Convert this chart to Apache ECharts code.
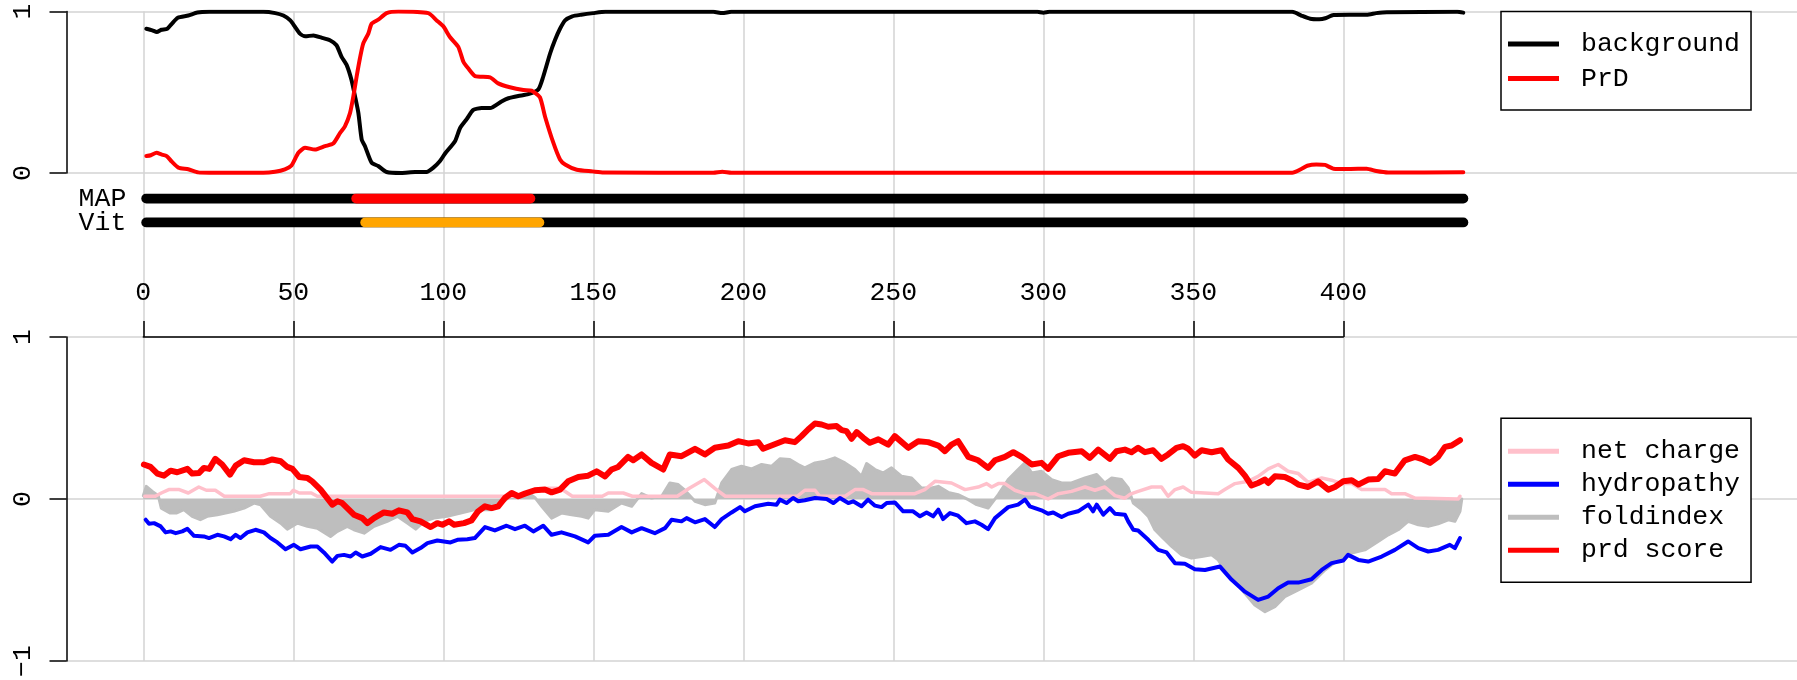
<!DOCTYPE html>
<html>
<head>
<meta charset="utf-8">
<title>PLAAC profile</title>
<script src="https://cdn.jsdelivr.net/npm/echarts@6.0.0/dist/echarts.min.js"></script>
<style>
  html, body { margin: 0; padding: 0; background: #ffffff; }
  #chart { width: 1797px; height: 680px; }
</style>
</head>
<body>
<div id="chart"></div>
<script>
// ---- data (residue, value) ----
const proteinLength = 440;
const xTicks = [0, 50, 100, 150, 200, 250, 300, 350, 400];
const trackNames = ["Vit", "MAP"];
const mapRegion = [71, 129];
const vitRegion = [74, 132];

const background = [[1,0.893],[3,0.883],[4.5,0.873],[6,0.887],[8,0.893],[9.5,0.924],[11.5,0.961],[15,0.975],[18,0.994],[22,0.998],[40,0.998],[44,0.99],[46.7,0.975],[49,0.945],[50.6,0.904],[52.2,0.863],[54,0.846],[56.7,0.852],[59.4,0.838],[62.2,0.822],[64.4,0.791],[66.1,0.719],[67.8,0.668],[69.4,0.576],[70.6,0.473],[71.7,0.371],[72.8,0.207],[73.9,0.166],[76.1,0.064],[78.3,0.043],[81.1,0.006],[86,0],[90.6,0.006],[94.4,0.006],[96.7,0.033],[98.9,0.074],[100.6,0.121],[103.9,0.197],[105.6,0.279],[107.8,0.334],[110,0.391],[112.8,0.402],[115.6,0.402],[119.4,0.443],[121.7,0.463],[125,0.477],[128.3,0.488],[131.7,0.518],[133.3,0.596],[135.6,0.74],[137.2,0.822],[138.9,0.893],[140.6,0.945],[143,0.97],[146,0.98],[150,0.99],[154,0.998],[190,0.998],[193,0.99],[196,0.998],[298,0.998],[300,0.993],[302,0.998],[383,0.998],[386,0.975],[389,0.955],[392,0.952],[394,0.958],[396.7,0.978],[402,0.98],[407.8,0.98],[411,0.99],[414.5,0.996],[438,0.998],[440,0.993]];

const prd = [[1,0.105],[2.5,0.11],[4.4,0.125],[6,0.115],[7.8,0.105],[9.5,0.07],[11.7,0.033],[15,0.023],[18.3,0.004],[22,0.002],[40,0.002],[43.9,0.008],[47.2,0.023],[49.4,0.047],[51.7,0.125],[53.9,0.156],[57.2,0.145],[60.6,0.166],[63.3,0.182],[65.6,0.248],[67.2,0.289],[68.9,0.371],[70,0.473],[71.1,0.596],[72.2,0.709],[73.3,0.801],[75,0.863],[76.1,0.924],[78.3,0.949],[81.1,0.99],[85,1.0],[95,0.99],[97.8,0.945],[100,0.908],[102.2,0.842],[105,0.781],[106.7,0.689],[108.3,0.648],[110.6,0.6],[115.6,0.592],[118.3,0.555],[122.2,0.531],[126.7,0.514],[129.4,0.51],[132.2,0.469],[133.9,0.35],[136.7,0.186],[138.9,0.084],[140.6,0.053],[144.5,0.02],[149.7,0.01],[153.4,0.003],[190,0.002],[193,0.008],[196,0.002],[383,0.002],[386,0.025],[388,0.045],[391,0.053],[393.9,0.05],[396.7,0.027],[402,0.025],[407.8,0.027],[411,0.012],[415,0.003],[440,0.004]];

const prdScore = [[0.2,0.213],[2.4,0.198],[4.7,0.157],[6.9,0.144],[9.1,0.175],[11.3,0.165],[14.7,0.186],[16.3,0.157],[18.6,0.161],[20.2,0.192],[22,0.186],[24,0.248],[26.3,0.213],[28.9,0.151],[30.8,0.206],[33.6,0.239],[36.9,0.227],[40.2,0.227],[43,0.244],[45.8,0.233],[48,0.198],[49.7,0.186],[52,0.136],[54.7,0.13],[56.3,0.109],[59.1,0.058],[61.3,0.006],[63,-0.035],[64.7,-0.014],[66.3,-0.025],[68,-0.056],[70.2,-0.097],[73,-0.118],[74.7,-0.149],[76.9,-0.118],[80.2,-0.083],[83,-0.091],[85.2,-0.07],[88,-0.083],[89.7,-0.124],[92.4,-0.138],[95.8,-0.173],[98,-0.149],[99.7,-0.159],[101.9,-0.138],[103.6,-0.159],[106.9,-0.149],[109.4,-0.132],[111.6,-0.076],[113.9,-0.045],[116.1,-0.056],[118.3,-0.045],[120.5,0.006],[122.8,0.037],[125,0.017],[127.2,0.033],[130.5,0.054],[133.9,0.058],[136.1,0.041],[138.9,0.058],[141.6,0.109],[145,0.136],[148.3,0.144],[151.1,0.171],[153.9,0.14],[156.1,0.182],[158.3,0.198],[161.6,0.26],[163.3,0.239],[166.1,0.275],[169.4,0.223],[173.3,0.182],[175.5,0.275],[179.4,0.264],[183.9,0.31],[187.2,0.275],[190.5,0.316],[195,0.33],[198.3,0.357],[201.6,0.343],[205,0.351],[206.6,0.31],[209.4,0.33],[213.9,0.363],[217.2,0.351],[219.4,0.388],[221.6,0.429],[223.9,0.466],[226.1,0.46],[228.3,0.446],[231.1,0.45],[232.8,0.425],[234.4,0.419],[236.1,0.372],[237.8,0.413],[240,0.378],[242.2,0.347],[245,0.368],[248.3,0.336],[250.5,0.388],[255,0.316],[258.3,0.357],[261.6,0.351],[265,0.33],[267.2,0.295],[269.4,0.336],[271.6,0.357],[275,0.26],[278.3,0.239],[281.6,0.192],[283.9,0.239],[287.2,0.26],[290,0.289],[292.8,0.26],[296.1,0.213],[299.4,0.223],[301.6,0.186],[305,0.264],[308.3,0.285],[312.8,0.295],[315.5,0.254],[318.3,0.305],[322.2,0.248],[324.4,0.295],[327.2,0.305],[329.4,0.289],[331.6,0.316],[333.9,0.289],[336.6,0.301],[339.4,0.248],[341.6,0.275],[344.4,0.316],[346.6,0.326],[348.3,0.31],[350.5,0.268],[352.8,0.301],[356.1,0.289],[359.4,0.301],[361.6,0.244],[365,0.192],[367.2,0.144],[369.4,0.083],[371.6,0.099],[373.9,0.12],[375,0.099],[377.2,0.14],[380.5,0.136],[382.8,0.116],[385,0.089],[388.3,0.074],[391.6,0.109],[395,0.058],[397.2,0.074],[400,0.109],[402.8,0.116],[405,0.089],[408.3,0.12],[411.6,0.124],[413.9,0.171],[417.2,0.157],[420.5,0.239],[423.9,0.26],[426.6,0.244],[428.9,0.223],[431.6,0.26],[433.9,0.322],[436.1,0.33],[438.9,0.363]];

const hydropathy = [[0.8,-0.128],[1.9,-0.153],[3.6,-0.149],[5.8,-0.169],[7.4,-0.206],[9.1,-0.2],[10.8,-0.211],[13,-0.2],[14.7,-0.184],[16.9,-0.227],[20.2,-0.231],[21.9,-0.241],[24.7,-0.221],[26.9,-0.231],[29.1,-0.248],[30.8,-0.221],[32.4,-0.241],[34.7,-0.206],[37.4,-0.19],[40.2,-0.206],[42.4,-0.241],[44.7,-0.268],[47.4,-0.31],[50.2,-0.283],[52.4,-0.31],[55.8,-0.293],[58,-0.293],[60.2,-0.33],[63,-0.386],[64.7,-0.351],[66.9,-0.345],[69.1,-0.355],[70.8,-0.33],[73,-0.355],[75.8,-0.338],[79.1,-0.297],[82.4,-0.314],[85.2,-0.283],[87.4,-0.289],[89.7,-0.33],[92.4,-0.303],[94.7,-0.272],[98,-0.256],[100.2,-0.262],[102.4,-0.268],[104.7,-0.252],[108,-0.248],[110.5,-0.241],[113.9,-0.173],[117.2,-0.194],[121.1,-0.165],[123.9,-0.186],[127.2,-0.165],[130,-0.2],[133.3,-0.165],[136.1,-0.221],[139.4,-0.206],[143.9,-0.231],[148.3,-0.268],[150.5,-0.227],[155,-0.221],[159.4,-0.173],[162.8,-0.206],[166.1,-0.18],[170.5,-0.211],[173.9,-0.18],[176.1,-0.128],[179.4,-0.138],[181.1,-0.118],[183.9,-0.144],[187.2,-0.124],[190.5,-0.173],[192.8,-0.124],[196.1,-0.083],[198.9,-0.05],[200.5,-0.076],[203.9,-0.045],[208.3,-0.029],[211.1,-0.035],[212.2,-0.004],[214.4,-0.025],[216.6,0.006],[218.3,-0.014],[220.5,-0.008],[223.9,0.006],[227.8,0],[230,-0.025],[232.2,0.006],[235,-0.025],[236.6,-0.014],[239.4,-0.045],[241.6,-0.004],[243.9,-0.041],[246.1,-0.05],[247.8,-0.025],[250.5,-0.021],[253.3,-0.076],[256.6,-0.076],[258.9,-0.107],[261.1,-0.083],[263.3,-0.107],[265,-0.066],[266.6,-0.124],[268.9,-0.087],[271.6,-0.103],[274.4,-0.149],[277.2,-0.138],[279.4,-0.159],[281.6,-0.186],[283.9,-0.118],[288.3,-0.05],[291.6,-0.035],[293.9,-0.004],[295.5,-0.045],[299.4,-0.07],[301.6,-0.091],[303.3,-0.083],[306.1,-0.111],[308.3,-0.091],[311.6,-0.076],[315,-0.035],[316.6,-0.076],[317.8,-0.035],[320,-0.097],[322.2,-0.056],[323.9,-0.091],[327.2,-0.097],[328.3,-0.138],[330,-0.19],[331.6,-0.194],[335,-0.252],[338.3,-0.314],[341.1,-0.33],[343.9,-0.396],[347.2,-0.4],[350.5,-0.433],[353.9,-0.438],[358.9,-0.417],[362.8,-0.499],[367.2,-0.572],[371.6,-0.623],[375,-0.602],[378.3,-0.551],[381.6,-0.516],[385,-0.516],[389.4,-0.495],[392.8,-0.438],[396.1,-0.396],[400,-0.38],[401.6,-0.345],[405,-0.376],[408.3,-0.386],[412.8,-0.355],[417.2,-0.314],[421.6,-0.262],[425,-0.303],[428.3,-0.324],[431.6,-0.314],[435.5,-0.283],[437.2,-0.303],[438.9,-0.241]];

const netCharge = [[0.5,0.017],[4,0.017],[6,0.037],[8.5,0.058],[12,0.058],[15,0.037],[18.5,0.074],[21,0.054],[24,0.054],[27,0.017],[39,0.017],[42,0.033],[49,0.033],[50,0.054],[52,0.037],[56,0.037],[58,0.017],[125,0.017],[128,0.033],[135,0.066],[139,0.066],[143,0.017],[153,0.017],[155,0.037],[160,0.037],[163,0.017],[178,0.017],[182,0.066],[187,0.12],[190.5,0.066],[194,0.017],[218,0.017],[220.5,0.054],[223.9,0.054],[225.5,0.017],[233.9,0.017],[237.2,0.058],[240,0.058],[242.8,0.033],[257.2,0.033],[260.5,0.058],[263.9,0.109],[269.4,0.099],[273.9,0.058],[278.3,0.074],[281.1,0.095],[282.8,0.074],[285,0.095],[287.2,0.095],[290.5,0.054],[293.9,0.033],[297.2,0.033],[301.6,0.0],[305,0.033],[309.4,0.047],[313.9,0.074],[317.2,0.054],[320.5,0.074],[323.9,0.021],[327.2,0.005],[329,0.03],[331.6,0.047],[336.1,0.074],[339.4,0.074],[341.6,0.017],[343.9,0.058],[346.6,0.074],[349.4,0.041],[358.3,0.033],[360.5,0.058],[363.9,0.095],[368.3,0.109],[371.6,0.14],[375,0.186],[378.3,0.213],[381.6,0.171],[385,0.157],[388.3,0.103],[392.8,0.13],[396.1,0.116],[399.4,0.095],[402.8,0.095],[406.1,0.058],[413.9,0.058],[416.1,0.033],[420.5,0.033],[423.9,0.006],[438.3,0.0],[438.9,0.017]];

const foldIndex = [[0,0.02],[1,0.078],[3,0.047],[5,0.02],[6,-0.056],[9,-0.087],[11,-0.087],[13.5,-0.066],[16.3,-0.107],[19,-0.128],[21.3,-0.107],[24.7,-0.097],[27.4,-0.087],[30.1,-0.076],[33.6,-0.056],[36.9,-0.025],[39.1,-0.035],[42.4,-0.107],[45.8,-0.149],[48,-0.186],[51.3,-0.149],[54.7,-0.169],[58,-0.18],[62.4,-0.231],[64.7,-0.2],[68,-0.169],[70.2,-0.19],[73.6,-0.211],[76.9,-0.169],[81.3,-0.138],[84.7,-0.107],[88,-0.149],[90.8,-0.186],[93.6,-0.138],[96.9,-0.118],[101.3,-0.107],[105.8,-0.087],[110.2,-0.066],[114,-0.066],[116.1,-0.066],[119.4,-0.025],[122,0.01],[128.3,0.037],[130.5,0.01],[133,-0.05],[136.1,-0.118],[139.4,-0.087],[142.8,-0.097],[146.1,-0.107],[148.3,-0.118],[150.5,-0.066],[155,-0.076],[159.4,-0.025],[162.8,-0.045],[166.1,0.033],[169.4,0.006],[172.8,0.017],[175.5,0.099],[178.3,0.089],[180.5,0.054],[183.9,-0.014],[187.2,-0.035],[190.5,-0.025],[192.8,0.099],[196.1,0.182],[199.4,0.202],[202.8,0.186],[206.1,0.213],[209.4,0.202],[212.2,0.248],[215.5,0.244],[218.3,0.213],[220.5,0.192],[223.9,0.223],[227.2,0.233],[230.5,0.254],[233.9,0.223],[237.2,0.182],[239.4,0.14],[241.1,0.219],[243.9,0.182],[246.6,0.161],[249.4,0.192],[252.8,0.14],[256.1,0.13],[259.4,0.068],[262.8,0.068],[265,0.078],[268.3,0.041],[271.6,0.027],[275,-0.004],[277.8,-0.035],[281.6,-0.056],[285,0.027],[288.3,0.12],[291.6,0.182],[293.9,0.223],[296.1,0.161],[299.4,0.171],[302.8,0.12],[306.1,0.099],[309.4,0.099],[313.9,0.13],[317.8,0.151],[320.5,0.099],[322.8,0.13],[326.1,0.12],[328.3,0.068],[330,-0.025],[332.8,-0.066],[335,-0.107],[337.2,-0.19],[339.4,-0.231],[342.8,-0.293],[346.1,-0.345],[349.4,-0.365],[352.8,-0.355],[356.1,-0.345],[358.3,-0.376],[360.5,-0.438],[363.9,-0.51],[367.2,-0.582],[370.5,-0.654],[373.9,-0.696],[377.2,-0.665],[380.5,-0.603],[385,-0.561],[389.4,-0.52],[393.9,-0.438],[398.3,-0.376],[402.8,-0.334],[407.2,-0.314],[411.6,-0.262],[415,-0.221],[418.3,-0.19],[421.6,-0.138],[425,-0.159],[428.3,-0.169],[431.6,-0.153],[435,-0.128],[437.2,-0.138],[438.9,-0.076],[439.5,0]];

// ---- layout (pixels) ----
const W = 1797;
const AXIS_X = 66.5;      // left y axes
const X0 = 143.3;         // pixel of residue 0
const PX = 3;             // pixels per residue
const TOP1 = 11.5, BOT1 = 173;
const TOP2 = 337, BOT2 = 661;
const xMin = (AXIS_X - X0) / PX;
const xMax = xMin + (W - AXIS_X) / PX;

const FONT = "Liberation Mono";
const FS = 26.5;
const GRID_GRAY = "#D3D3D3";

const yAxisStyle = (min, max) => ({
  type: "value", min: min, max: max, interval: 1,
  axisLine: { show: true, onZero: false, lineStyle: { color: "#000", width: 1.5 } },
  axisTick: { show: true, length: 17, lineStyle: { color: "#000", width: 1.5 } },
  axisLabel: {
    rotate: 90, margin: 30, fontFamily: FONT, fontSize: FS, color: "#000",
    formatter: (v) => String(v).replace("-", "\u2212"),
  },
  splitLine: { show: true, lineStyle: { color: GRID_GRAY, width: 1.5 } },
});

const hiddenX = (idx, min, max) => ({ type: "value", gridIndex: idx, min: min, max: max, show: false });

const line = (name, data, color, width, xi, yi, extra) => Object.assign({
  name: name, type: "line", data: data, xAxisIndex: xi, yAxisIndex: yi,
  showSymbol: false, symbol: "none", silent: true,
  itemStyle: { color: color },
  lineStyle: { color: color, width: width, join: "round", cap: "round" },
}, extra || {});

const legendBase = {
  orient: "vertical", left: 1501, icon: "rect",
  itemWidth: 51, itemHeight: 5,
  backgroundColor: "#fff", borderColor: "#000", borderWidth: 1.5,
  selectedMode: false,
  textStyle: { fontFamily: FONT, fontSize: FS, color: "#000", lineHeight: 26, padding: [0, 0, 0, 17] },
};

const option = {
  animation: false,
  backgroundColor: "#ffffff",
  grid: [
    { left: AXIS_X, right: 0, top: TOP1, height: BOT1 - TOP1 },
    { left: AXIS_X, right: 0, top: TOP2, height: BOT2 - TOP2 },
    { left: X0, width: proteinLength * PX + 3, top: 198.5, height: 24 },
    { left: X0, width: 400 * PX, top: TOP1, height: BOT2 - TOP1 },
    { left: X0, width: 400 * PX, top: TOP2, height: 10 },
  ],
  xAxis: [
    hiddenX(0, xMin, xMax),
    hiddenX(1, xMin, xMax),
    hiddenX(2, 0, proteinLength + 1),
    {
      type: "value", gridIndex: 3, min: xTicks[0], max: xTicks[xTicks.length - 1], interval: 50,
      axisLine: { show: false }, axisTick: { show: false }, axisLabel: { show: false },
      splitLine: { show: true, lineStyle: { color: GRID_GRAY, width: 1.5 } },
    },
    {
      type: "value", gridIndex: 4, position: "top", min: xTicks[0], max: xTicks[xTicks.length - 1], interval: 50,
      axisLine: { show: true, onZero: false, lineStyle: { color: "#000", width: 1.5 } },
      axisTick: { show: true, length: 16, lineStyle: { color: "#000", width: 1.5 } },
      axisLabel: { margin: 31, fontFamily: FONT, fontSize: FS, color: "#000" },
      splitLine: { show: false },
    },
  ],
  yAxis: [
    Object.assign({ gridIndex: 0 }, yAxisStyle(0, 1)),
    Object.assign({ gridIndex: 1 }, yAxisStyle(-1, 1)),
    {
      type: "category", gridIndex: 2, data: trackNames, boundaryGap: false,
      axisLine: { show: false }, axisTick: { show: false }, splitLine: { show: false },
      axisLabel: {
        interval: 0, showMinLabel: true, showMaxLabel: true, hideOverlap: false,
        margin: 17, fontFamily: FONT, fontSize: FS, color: "#000",
      },
    },
    { type: "value", gridIndex: 3, show: false },
    { type: "value", gridIndex: 4, show: false },
  ],
  legend: [
    Object.assign({}, legendBase, {
      top: TOP1, data: ["background", "PrD"], itemGap: 7.5, padding: [19, 11, 18, 7],
    }),
    Object.assign({}, legendBase, {
      top: 418.3, data: ["net charge", "hydropathy", "foldindex", "prd score"], itemGap: 6, padding: [19.4, 11, 18.6, 7],
    }),
  ],
  series: [
    line("background", background, "#000000", 4, 0, 0, { smooth: 0.2 }),
    line("PrD", prd, "#FF0000", 4, 0, 0, { smooth: 0.2 }),

    line("MAP track", [[1, "MAP"], [proteinLength, "MAP"]], "#000000", 10, 2, 2),
    line("Vit track", [[1, "Vit"], [proteinLength, "Vit"]], "#000000", 10, 2, 2),
    line("MAP region", [[mapRegion[0], "MAP"], [mapRegion[1], "MAP"]], "#FF0000", 10, 2, 2),
    line("Vit region", [[vitRegion[0], "Vit"], [vitRegion[1], "Vit"]], "#FFA500", 10, 2, 2),

    line("foldindex", foldIndex, "#BEBEBE", 3, 1, 1, { areaStyle: { color: "#BEBEBE", opacity: 1 } }),
    line("net charge", netCharge, "#FFC0CB", 3.5, 1, 1),
    line("hydropathy", hydropathy, "#0000FF", 4, 1, 1),
    line("prd score", prdScore, "#FF0000", 6, 1, 1),
  ],
};

const chart = echarts.init(document.getElementById("chart"), null, { renderer: "canvas" });
chart.setOption(option);
</script>
</body>
</html>
